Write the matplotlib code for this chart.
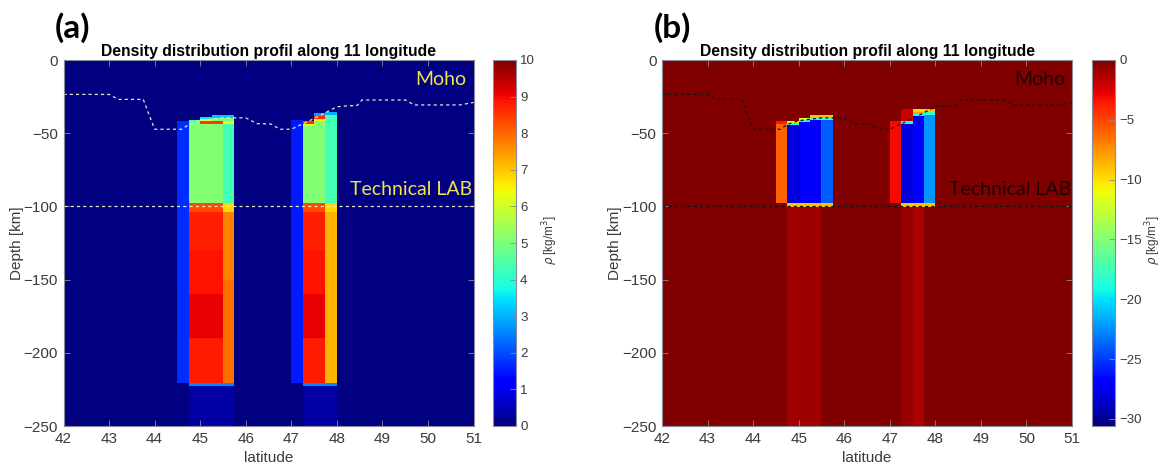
import numpy as np
import matplotlib
matplotlib.use("Agg")
import matplotlib.pyplot as plt

# ---------------- data ----------------
lat_edges = np.arange(42.0, 51.0 + 1e-9, 0.25)

# Moho
moho_lat = [42.0, 43.0, 43.2, 43.75, 44.0, 44.6, 44.75, 45.0, 45.5, 46.0, 46.25, 46.55,
            46.75, 47.0, 47.5, 48.0, 48.15, 48.45, 48.55, 49.5, 49.7, 50.7, 51.0]
moho_depth = [-23.5, -23.5, -26.9, -26.9, -47.3, -47.3, -44.0, -41.5, -39.5, -39.5, -43.5, -43.7,
              -47.3, -47.3, -40.0, -32.0, -31.5, -31.0, -27.3, -27.3, -30.7, -30.7, -29.0]
lab_depth = -100.0

# Panel (a): anomaly segments  (lat from, lat to, top, bottom, value)
a_lat0 = [44.50, 44.75, 44.75, 45.00, 45.00, 45.00, 45.00, 45.25, 45.25, 45.25, 45.25,
          45.50, 45.50, 45.50, 45.50,
          44.75, 44.75, 44.75, 44.75, 44.75, 45.50, 45.50, 45.50, 44.75, 44.75,
          47.00, 47.25, 47.25, 47.25, 47.50, 47.50, 47.50, 47.50, 47.75, 47.75,
          47.25, 47.25, 47.25, 47.25, 47.25, 47.75, 47.75, 47.25, 47.25]
a_lat1 = [44.75, 45.00, 45.00, 45.25, 45.25, 45.25, 45.25, 45.50, 45.50, 45.50, 45.50,
          45.75, 45.75, 45.75, 45.75,
          45.50, 45.50, 45.50, 45.50, 45.50, 45.75, 45.75, 45.75, 45.75, 45.75,
          47.25, 47.50, 47.50, 47.50, 47.75, 47.75, 47.75, 47.75, 48.00, 48.00,
          47.75, 47.75, 47.75, 47.75, 47.75, 48.00, 48.00, 48.00, 48.00]
a_top = [-41.7, -41.0, -43.0, -39.2, -40.5, -41.5, -43.7, -37.6, -39.5, -41.5, -43.7,
         -37.6, -39.5, -41.5, -43.7,
         -98.0, -104.0, -130.0, -160.0, -190.0, -98.0, -104.0, -150.0, -220.5, -222.5,
         -41.0, -41.5, -44.0, -45.0, -36.4, -38.0, -40.3, -41.5, -35.7, -37.5,
         -98.0, -104.0, -130.0, -160.0, -190.0, -98.0, -104.0, -220.5, -222.5]
a_bot = [-220.5, -43.0, -98.0, -40.5, -41.5, -43.7, -98.0, -39.5, -41.5, -43.7, -98.0,
         -39.5, -41.5, -43.7, -98.0,
         -104.0, -130.0, -160.0, -190.0, -220.5, -104.0, -150.0, -220.5, -222.5, -250.0,
         -220.5, -44.0, -45.0, -98.0, -38.0, -40.3, -41.5, -98.0, -37.5, -98.0,
         -104.0, -130.0, -160.0, -190.0, -220.5, -104.0, -220.5, -222.5, -250.0]
a_val = [1.7, 4.5, 5.1, 3.5, 6.5, 8.5, 5.1, 3.2, 5.0, 8.5, 5.1,
         3.2, 5.0, 6.3, 4.3,
         8.3, 8.75, 8.9, 9.1, 8.8, 6.8, 7.7, 7.9, 2.6, 0.35,
         1.5, 8.6, 6.5, 5.1, 2.8, 8.6, 6.5, 5.1, 3.0, 4.3,
         8.3, 8.75, 8.9, 9.1, 8.8, 6.8, 7.2, 2.6, 0.35]
a_background = 0.0

# Panel (b): anomaly segments
b_lat0 = [44.50, 44.50, 44.75, 44.75, 44.75, 45.00, 45.00, 45.00, 45.25, 45.25, 45.25, 45.50,
          44.75, 44.75,
          47.00, 47.25, 47.25, 47.25, 47.50, 47.50, 47.50, 47.50, 47.75, 47.75, 47.75,
          47.25, 47.25, 47.50]
b_lat1 = [44.75, 44.75, 45.00, 45.00, 45.00, 45.25, 45.25, 45.25, 45.75, 45.75, 45.50, 45.75,
          45.75, 45.50,
          47.25, 47.50, 47.50, 47.50, 47.75, 47.75, 47.75, 47.75, 48.00, 48.00, 48.00,
          48.00, 47.50, 47.75]
b_top = [-41.7, -44.0, -41.7, -43.0, -44.5, -39.5, -41.0, -42.5, -37.8, -39.5, -41.0, -41.0,
         -98.0, -100.5,
         -41.7, -33.5, -41.7, -43.5, -33.5, -35.5, -36.5, -38.0, -33.5, -35.5, -37.5,
         -98.0, -100.5, -100.5]
b_bot = [-44.0, -98.0, -43.0, -44.5, -98.0, -41.0, -42.5, -98.0, -39.5, -41.0, -98.0, -98.0,
         -100.5, -250.0,
         -98.0, -41.7, -43.5, -98.0, -35.5, -36.5, -38.0, -98.0, -35.5, -37.5, -98.0,
         -100.5, -250.0, -250.0]
b_val = [-3.5, -5.9, -11.0, -19.0, -28.0, -11.0, -19.0, -27.3, -9.0, -18.0, -27.3, -24.0,
         -9.0, -0.9,
         -3.2, -2.0, -19.0, -28.0, -10.0, -8.0, -19.0, -27.0, -9.0, -18.0, -22.3,
         -9.0, -0.7, -1.3]
b_background = 0.0

a_ticks = [0, 1, 2, 3, 4, 5, 6, 7, 8, 9, 10]
b_ticks = [0, -5, -10, -15, -20, -25, -30]
x_ticks = [42, 43, 44, 45, 46, 47, 48, 49, 50, 51]
y_ticks = [0, -50, -100, -150, -200, -250]
title_text = "Density distribution profil along 11 longitude"
cbar_label = r'$\rho$ [kg/m$^3$]'


def build_grid(lat0, lat1, top, bot, val, bg):
    d_edges = sorted(set([0.0, -250.0] + list(top) + list(bot)), reverse=True)
    d_edges = np.array(d_edges)
    dc = 0.5 * (d_edges[:-1] + d_edges[1:])
    lc = 0.5 * (lat_edges[:-1] + lat_edges[1:])
    grid = np.full((len(dc), len(lc)), bg, dtype=float)
    for l0, l1, t, b, v in zip(lat0, lat1, top, bot, val):
        rows = (dc < t) & (dc > b)
        cols = (lc > l0) & (lc < l1)
        grid[np.ix_(rows, cols)] = v
    return d_edges, grid


plt.rcParams['font.family'] = ['Liberation Sans', 'DejaVu Sans']
W, H = 1162, 470
fig = plt.figure(figsize=(W / 100, H / 100), dpi=100)

cmap = plt.get_cmap('jet')
tick_col = '#3a3a3a'
spine_col = '#8a8a9a'


def panel(ax_left, cb_left, lat0, lat1, top, bot, val, bg, vmin, vmax, cticks,
          line_col, txt_col, letter, letter_x, label_x):
    ax = fig.add_axes([ax_left / W, (H - 426) / H, 410 / W, 366 / H])
    cax = fig.add_axes([cb_left / W, (H - 426) / H, 23 / W, 366 / H])
    d_edges, grid = build_grid(lat0, lat1, top, bot, val, bg)
    m = ax.pcolormesh(lat_edges, d_edges, grid, cmap=cmap, vmin=vmin, vmax=vmax,
                      shading='flat', rasterized=True)
    ax.plot(moho_lat, moho_depth, color=line_col, lw=0.9, ls=(0, (2.5, 2.5)))
    ax.plot([42, 51], [lab_depth, lab_depth], color=line_col, lw=0.9, ls=(0, (2.5, 2.5)))
    ax.set_xlim(42, 51)
    ax.set_ylim(-250, 0)
    ax.set_xticks(x_ticks)
    ax.set_yticks(y_ticks)
    ax.tick_params(direction='in', length=4, width=0.6, colors=spine_col,
                   labelcolor=tick_col, labelsize=11, top=True, right=True, pad=4)
    for s in ax.spines.values():
        s.set_color(spine_col)
        s.set_linewidth(0.8)
    ax.set_xlabel('latitude', fontsize=11, color=tick_col, labelpad=4)
    ax.set_ylabel('Depth [km]', fontsize=11, color=tick_col, labelpad=0)
    ax.set_title(title_text, fontsize=11.3, fontweight='bold', pad=3, color='black')
    ax.text(50.85, -13.5, 'Moho', color=txt_col, fontsize=14, family='Lato',
            ha='right', va='center')
    ax.text(50.98, -88.3, 'Technical LAB', color=txt_col, fontsize=14, family='Lato',
            ha='right', va='center')

    cb = fig.colorbar(m, cax=cax)
    cb.set_ticks(cticks)
    cb.outline.set_edgecolor(spine_col)
    cb.outline.set_linewidth(0.8)
    cax.tick_params(direction='in', length=4, width=0.6, colors=spine_col,
                    labelcolor=tick_col, labelsize=9.5, pad=3)
    fig.text(label_x / W, 1 - 240 / H, cbar_label, fontsize=8.5, color=tick_col,
             rotation=90, ha='center', va='center')
    fig.text(letter_x / W, 1 - 28 / H, letter, fontsize=24, fontweight='bold',
             family='Lato', ha='left', va='center')
    return ax


panel(63.5, 493, a_lat0, a_lat1, a_top, a_bot, a_val, a_background, 0, 10, a_ticks,
      '#e8e8c8', '#efe54a', '(a)', 55, 550)
panel(662, 1092, b_lat0, b_lat1, b_top, b_bot, b_val, b_background, -30.6, 0, b_ticks,
      '#141414', '#1e0000', '(b)', 654, 1153)

fig.savefig('out.png', dpi=100)
